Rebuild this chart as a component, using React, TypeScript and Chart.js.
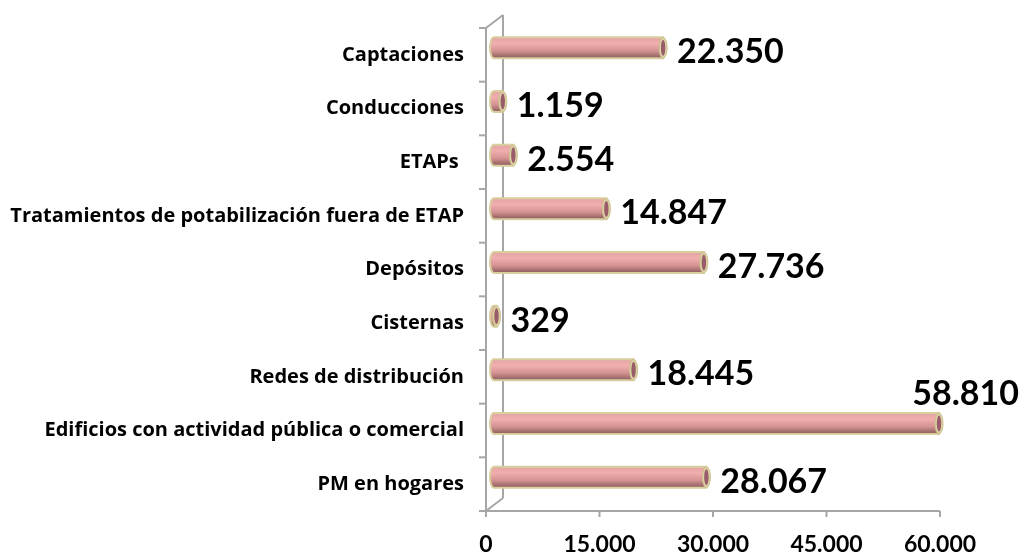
import React, { useEffect, useRef } from "react";
import { Chart, registerables } from "chart.js";
Chart.register(...registerables);

const categories = [
  "Captaciones",
  "Conducciones",
  "ETAPs ",
  "Tratamientos de potabilización fuera de ETAP",
  "Depósitos",
  "Cisternas",
  "Redes de distribución",
  "Edificios con actividad pública o comercial",
  "PM en hogares",
];
const values = [22350, 1159, 2554, 14847, 27736, 329, 18445, 58810, 28067];
const tickValues = [0, 15000, 30000, 45000, 60000];
const axisMin = 0;
const axisMax = 60000;

function fmt(n: number): string {
  return String(Math.round(n)).replace(/\B(?=(\d{3})+(?!\d))/g, ".");
}

const FONT = "Lato";
const CAT_FONT = "'Open Sans'";
const DX = 8; // bar plane offset from front frame
const DY = 7;
const DEPTH_X = 17;
const DEPTH_Y = 13;
const GRAY = "#a6a6a6";

function drawCylinder(ctx: CanvasRenderingContext2D, x0: number, x1: number, cy: number, h: number) {
  const r = h / 2;
  const rx = 4;
  const yT = cy - r;
  const yB = cy + r;
  const g = ctx.createLinearGradient(0, yT, 0, yB);
  g.addColorStop(0, "#e4a4a4");
  g.addColorStop(0.3, "#f1aeae");
  g.addColorStop(0.65, "#d49292");
  g.addColorStop(1, "#8a5a5a");
  ctx.save();
  ctx.beginPath();
  ctx.moveTo(x1, yT);
  ctx.lineTo(x0, yT);
  ctx.ellipse(x0, cy, rx, r, 0, -Math.PI / 2, Math.PI / 2, true);
  ctx.lineTo(x1, yB);
  ctx.closePath();
  ctx.fillStyle = g;
  ctx.fill();
  ctx.strokeStyle = "#d8ce9e";
  ctx.lineWidth = 2;
  ctx.stroke();
  // right cap
  ctx.beginPath();
  ctx.ellipse(x1, cy, rx, r, 0, 0, Math.PI * 2);
  ctx.fillStyle = "#dcd3a4";
  ctx.fill();
  ctx.strokeStyle = "#cabf8c";
  ctx.lineWidth = 1;
  ctx.stroke();
  ctx.beginPath();
  ctx.ellipse(x1, cy, rx - 1.8, r - 2.6, 0, 0, Math.PI * 2);
  ctx.fillStyle = "#9a5c6a";
  ctx.fill();
  ctx.restore();
}

const cylinderPlugin = {
  id: "cylinder3d",
  beforeDatasetsDraw(chart: any) {
    const ctx: CanvasRenderingContext2D = chart.ctx;
    const xs = chart.scales.x;
    const { top, bottom } = chart.chartArea;
    const fx0 = xs.getPixelForValue(axisMin) - DX;
    const fx1 = xs.getPixelForValue(axisMax) - DX;
    const fyTop = top + DY;
    const fyBot = bottom + DY;
    ctx.save();
    ctx.strokeStyle = GRAY;
    ctx.lineWidth = 2;
    const line = (a: number, b: number, c: number, d: number) => {
      ctx.beginPath();
      ctx.moveTo(a, b);
      ctx.lineTo(c, d);
      ctx.stroke();
    };
    // back wall
    line(fx0 + DEPTH_X, fyTop - DEPTH_Y, fx0 + DEPTH_X, fyBot - DEPTH_Y);
    line(fx0, fyTop, fx0 + DEPTH_X, fyTop - DEPTH_Y);
    line(fx0, fyBot, fx0 + DEPTH_X, fyBot - DEPTH_Y);
    // front axes
    line(fx0, fyTop, fx0, fyBot + 6);
    line(fx0, fyBot, fx1, fyBot);
    tickValues.forEach((v) => {
      const px = xs.getPixelForValue(v) - DX;
      line(px, fyBot, px, fyBot + 6);
    });
    const n = categories.length;
    for (let i = 0; i <= n; i++) {
      const yy = fyTop + (i * (fyBot - fyTop)) / n;
      line(fx0 - 7, yy, fx0, yy);
    }
    ctx.restore();
  },
  afterDatasetsDraw(chart: any) {
    const ctx: CanvasRenderingContext2D = chart.ctx;
    const meta = chart.getDatasetMeta(0);
    meta.data.forEach((el: any, i: number) => {
      const { x, y, base, height } = el.getProps(["x", "y", "base", "height"], true);
      drawCylinder(ctx, base, x, y, height);
      const txt = fmt(values[i]);
      ctx.save();
      ctx.font = `bold 34px ${FONT}`;
      ctx.fillStyle = "#000";
      ctx.textBaseline = "alphabetic";
      const w = ctx.measureText(txt).width;
      let tx = x + 14;
      let ty = y + 15.5;
      ctx.textAlign = "left";
      if (tx + w > chart.width - 6) {
        ctx.textAlign = "right";
        tx = chart.width - 8;
        ty = y - 19;
      }
      ctx.fillText(txt, tx, ty);
      ctx.restore();
    });
  },
};

export default function App() {
  const ref = useRef<HTMLCanvasElement>(null);
  useEffect(() => {
    if (!ref.current) return;
    const chart = new Chart(ref.current, {
      type: "bar",
      data: {
        labels: categories,
        datasets: [
          {
            data: values,
            backgroundColor: "rgba(0,0,0,0)",
            borderWidth: 0,
            barThickness: 21,
          },
        ],
      },
      options: {
        indexAxis: "y",
        responsive: false,
        animation: false,
        layout: { padding: { top: 21, right: 79, left: 0, bottom: 0 } },
        plugins: { legend: { display: false }, tooltip: { enabled: false } },
        scales: {
          x: {
            min: axisMin,
            max: axisMax,
            afterBuildTicks: (s: any) => {
              s.ticks = tickValues.map((v) => ({ value: v }));
            },
            afterFit: (s: any) => {
              s.height = 51;
              s.paddingLeft = 0;
              s.paddingRight = 0;
            },
            ticks: {
              callback: (v: any) => fmt(Number(v)),
              font: { family: FONT, weight: "bold", size: 23 },
              color: "#000",
              labelOffset: -DX,
              padding: 27,
              maxRotation: 0,
              autoSkip: false,
            },
            grid: { display: false, drawTicks: false },
            border: { display: false },
          },
          y: {
            afterFit: (s: any) => {
              s.width = 494;
              s.paddingTop = 0;
              s.paddingBottom = 0;
            },
            ticks: {
              font: { family: CAT_FONT, weight: "bold", size: 20 },
              color: "#000",
              labelOffset: DY,
              padding: 30,
              autoSkip: false,
            },
            grid: { display: false, drawTicks: false },
            border: { display: false },
          },
        },
      },
      plugins: [cylinderPlugin],
    } as any);
    return () => chart.destroy();
  }, []);
  return (
    <div style={{ position: "fixed", left: 0, top: 0, width: 1027, height: 555, background: "#fff" }}>
      <canvas ref={ref} width={1027} height={555} style={{ display: "block" }} />
    </div>
  );
}
